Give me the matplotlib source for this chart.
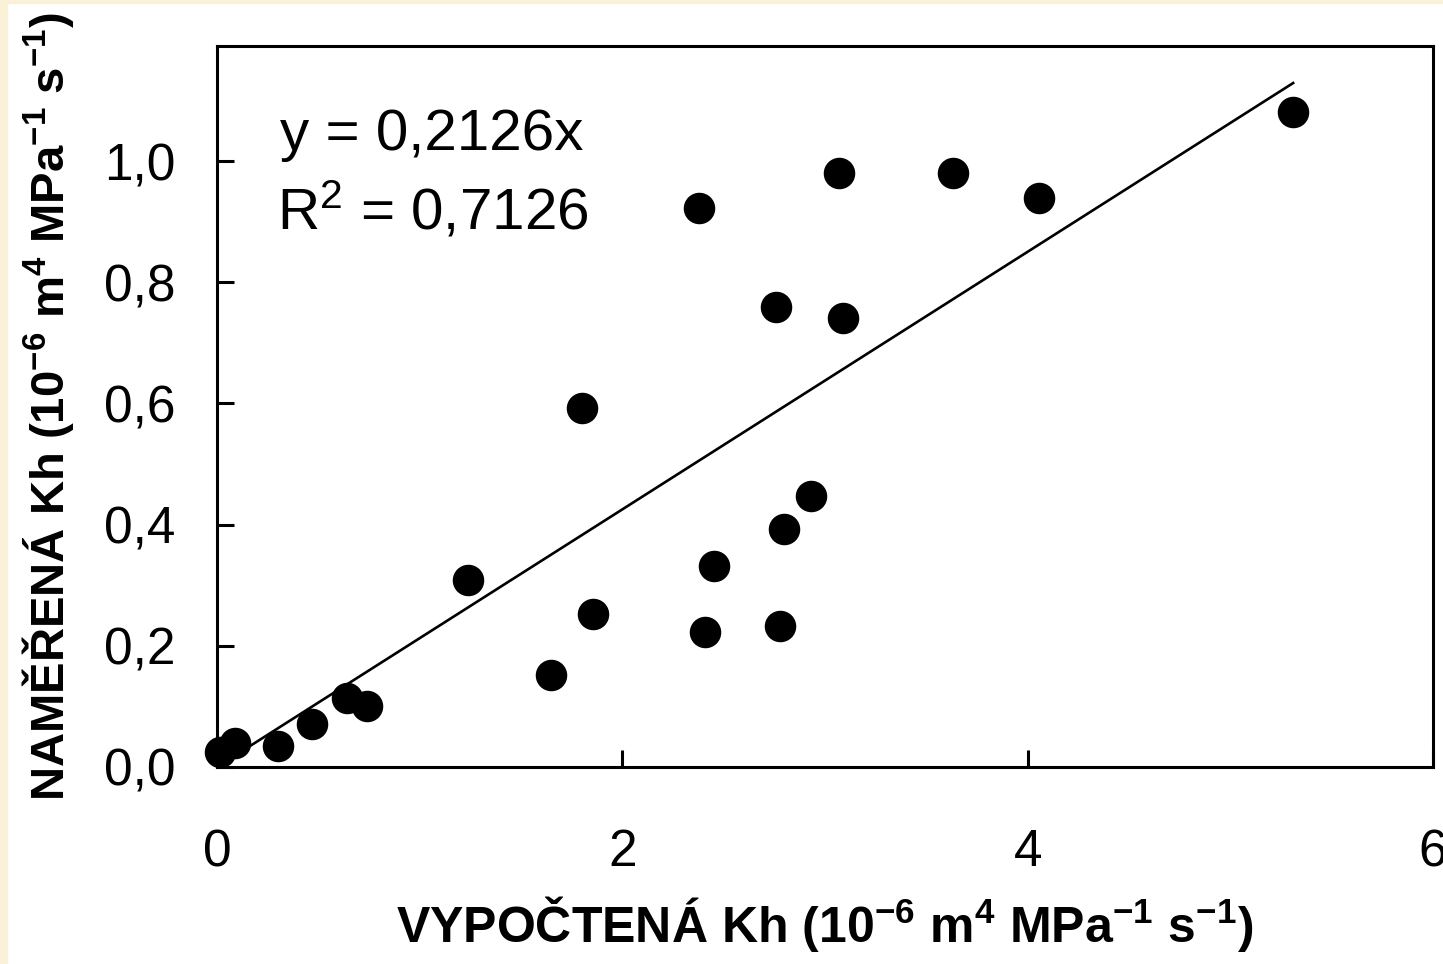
import numpy as np
import matplotlib.pyplot as plt
from matplotlib.patches import Rectangle

plt.rcParams['font.family'] = ['Liberation Sans', 'DejaVu Sans']
plt.rcParams['mathtext.fontset'] = 'custom'
plt.rcParams['mathtext.rm'] = 'Liberation Sans'
plt.rcParams['mathtext.it'] = 'Liberation Sans'
plt.rcParams['mathtext.bf'] = 'Liberation Sans:bold'

# vypoctena vs namerena Kh
vypoctena = [0.015, 0.09, 0.30, 0.47, 0.64, 0.74, 1.24, 1.65, 1.80, 1.855, 2.38,
             2.41, 2.45, 2.76, 2.78, 2.80, 2.93, 3.07, 3.09, 3.63, 4.055, 5.31]
namerena = [0.025, 0.04, 0.035, 0.071, 0.114, 0.10, 0.309, 0.152, 0.592, 0.252, 0.922,
            0.223, 0.332, 0.759, 0.233, 0.393, 0.447, 0.980, 0.741, 0.980, 0.939, 1.081]
slope = 0.2126

xticks = [0, 2, 4, 6]
xticklabels = ['0', '2', '4', '6']
yticks = [0.0, 0.2, 0.4, 0.6, 0.8, 1.0]
yticklabels = ['0,0', '0,2', '0,4', '0,6', '0,8', '1,0']

fig = plt.figure(figsize=(14.43, 9.64), dpi=100)
fig.patch.set_facecolor('white')
# cream strip at top and left like the slide background
fig.patches.append(Rectangle((0, 0), 7 / 1443, 1, transform=fig.transFigure, color='#fbf0d8', zorder=0))
fig.patches.append(Rectangle((0, 1 - 3 / 964), 1, 3 / 964, transform=fig.transFigure, color='#fbf0d8', zorder=0))

ax = fig.add_axes([217 / 1443, 1 - 767 / 964, (1433 - 217) / 1443, (767 - 46) / 964])

x = np.array(vypoctena)
y = np.array(namerena)
ax.scatter(x, y, s=470, color='black', zorder=3, clip_on=False)
xl = np.array([0, x.max()])
ax.plot(xl, slope * xl, color='black', lw=1.9, zorder=2)

ax.set_xlim(0, 6)
ax.set_ylim(0, 1.19)
ax.set_xticks(xticks)
ax.set_xticklabels(xticklabels)
ax.set_yticks(yticks)
ax.set_yticklabels(yticklabels)
ax.tick_params(axis='both', direction='in', length=12, width=2.2, labelsize=37, colors='black')
ax.tick_params(axis='x', pad=44)
ax.tick_params(axis='y', pad=30)
ax.tick_params(top=False, right=False)
for sp in ax.spines.values():
    sp.set_linewidth(2.2)

ax.text(0.052, 0.856, 'y = 0,2126x', transform=ax.transAxes, fontsize=42, va='baseline')
ax.text(0.049, 0.745, r'R$^{2}$ = 0,7126', transform=ax.transAxes, fontsize=42, va='baseline')

ax.set_xlabel(r'VYPOČTENÁ Kh (10$^{\mathbf{-6}}$ m$^{\mathbf{4}}$ MPa$^{\mathbf{-1}}$ s$^{\mathbf{-1}}$)',
              fontsize=36, fontweight='bold', labelpad=12)
ax.set_ylabel(r'NAMĚŘENÁ Kh (10$^{\mathbf{-6}}$ m$^{\mathbf{4}}$ MPa$^{\mathbf{-1}}$ s$^{\mathbf{-1}}$)',
              fontsize=34, fontweight='bold', labelpad=20)

fig.savefig('out.png', dpi=100)
